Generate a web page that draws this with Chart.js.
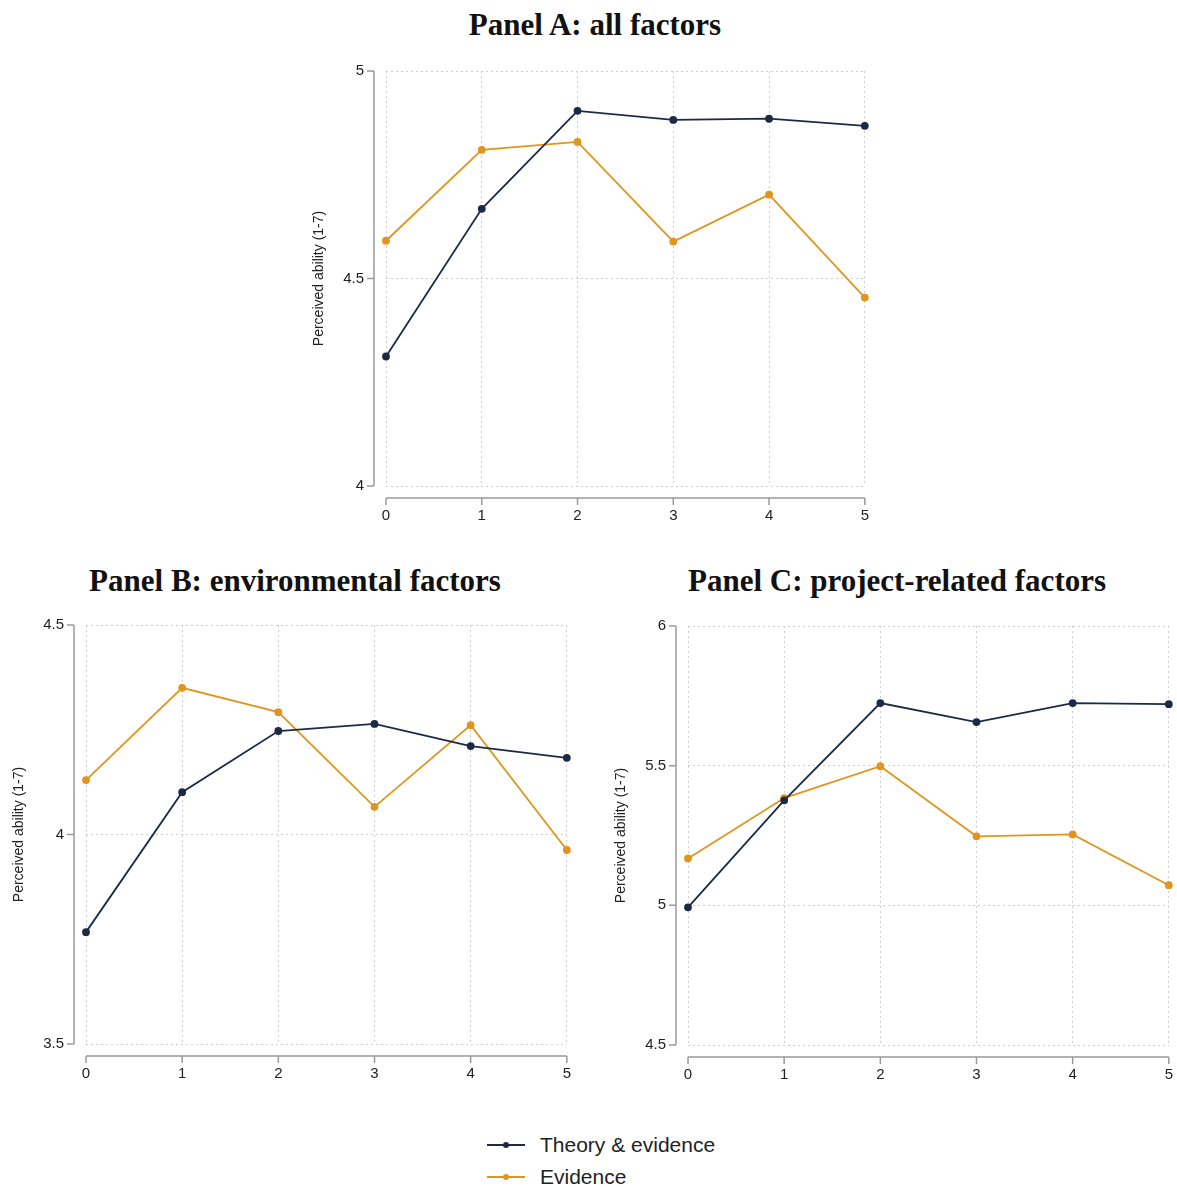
<!DOCTYPE html>
<html>
<head>
<meta charset="utf-8">
<script src="https://cdn.jsdelivr.net/npm/chart.js@4/dist/chart.umd.min.js"></script>
<style>
  body { margin: 0; background: #fff; width: 1177px; height: 1187px; position: relative; overflow: hidden; }
  .ttl { position: absolute; font-family: "Liberation Serif", serif; font-weight: bold; font-size: 31px; color: #111; white-space: nowrap; transform: translateX(-50%); }
  canvas { position: absolute; }
  #legend { position: absolute; left: 487px; top: 1130px; font-family: "Liberation Sans", Arial, sans-serif; font-size: 21px; color: #222; }
  .row { position: relative; height: 32px; line-height: 30px; padding-left: 53px; }
  .row .ln { position: absolute; left: 0; top: 14px; width: 38px; height: 2px; }
  .row .dt { position: absolute; left: 16px; top: 12px; width: 6px; height: 6px; border-radius: 50%; }
</style>
</head>
<body>
<div class="ttl" style="left:595px;top:7px">Panel A: all factors</div>
<div class="ttl" style="left:295px;top:563px">Panel B: environmental factors</div>
<div class="ttl" style="left:897px;top:563px">Panel C: project-related factors</div>

<canvas id="chartA" width="600" height="500" style="left:290px;top:40px"></canvas>
<canvas id="chartB" width="592" height="504" style="left:0px;top:594px"></canvas>
<canvas id="chartC" width="602" height="504" style="left:592px;top:595px"></canvas>

<div id="legend">
  <div class="row"><span class="ln" style="background:#1c2a48"></span><span class="dt" style="background:#1c2a48"></span>Theory &amp; evidence</div>
  <div class="row"><span class="ln" style="background:#e0951f"></span><span class="dt" style="background:#e0951f"></span>Evidence</div>
</div>

<script>
// rounds 0..5
const rounds = [0, 1, 2, 3, 4, 5];

// Panel A: all factors
const theoryA = [4.312, 4.668, 4.904, 4.882, 4.885, 4.868];
const evidenceA = [4.591, 4.810, 4.829, 4.589, 4.702, 4.454];
const ticksA = [4, 4.5, 5];

// Panel B: environmental factors
const theoryB = [3.767, 4.101, 4.247, 4.264, 4.211, 4.183];
const evidenceB = [4.130, 4.350, 4.292, 4.066, 4.261, 3.963];
const ticksB = [3.5, 4, 4.5];

// Panel C: project-related factors
const theoryC = [4.993, 5.376, 5.724, 5.656, 5.724, 5.720];
const evidenceC = [5.168, 5.384, 5.498, 5.247, 5.254, 5.072];
const ticksC = [4.5, 5, 5.5, 6];

const NAVY = "#1c2a48";
const ORANGE = "#e0951f";
const AXIS = "#9a9a9a";
const GRID = "#cfcfcf";
const FONT = "'Liberation Sans', Arial, sans-serif";

// Stata-like axes: lines sit a bit outside the plot region
const offsetAxes = {
  id: "offsetAxes",
  afterDraw(chart) {
    const ctx = chart.ctx;
    const xs = chart.scales.x, ys = chart.scales.y;
    const area = chart.chartArea;
    const ax = area.left - 12, ay = area.bottom + 12;
    ctx.save();
    ctx.strokeStyle = AXIS;
    ctx.lineWidth = 1.5;
    ctx.beginPath();
    ctx.moveTo(ax, ys.getPixelForValue(ys.min));
    ctx.lineTo(ax, ys.getPixelForValue(ys.max));
    ys.ticks.forEach(t => {
      const p = ys.getPixelForValue(t.value);
      ctx.moveTo(ax, p); ctx.lineTo(ax - 7, p);
    });
    ctx.moveTo(xs.getPixelForValue(xs.min), ay);
    ctx.lineTo(xs.getPixelForValue(xs.max), ay);
    xs.ticks.forEach(t => {
      const p = xs.getPixelForValue(t.value);
      ctx.moveTo(p, ay); ctx.lineTo(p, ay + 7);
    });
    ctx.stroke();
    ctx.restore();
  }
};

function makeChart(id, theory, evidence, yTicks, pad) {
  const yMin = yTicks[0], yMax = yTicks[yTicks.length - 1];
  return new Chart(document.getElementById(id), {
    type: "line",
    data: {
      labels: rounds,
      datasets: [
        {
          label: "Theory & evidence",
          data: rounds.map((r, i) => ({ x: r, y: theory[i] })),
          borderColor: NAVY, backgroundColor: NAVY,
          borderWidth: 1.8, pointRadius: 3, pointHoverRadius: 3,
          clip: false,
        },
        {
          label: "Evidence",
          data: rounds.map((r, i) => ({ x: r, y: evidence[i] })),
          borderColor: ORANGE, backgroundColor: ORANGE,
          borderWidth: 1.8, pointRadius: 3, pointHoverRadius: 3,
          clip: false,
        },
      ],
    },
    options: {
      responsive: false,
      animation: false,
      layout: { padding: pad },
      plugins: { legend: { display: false }, tooltip: { enabled: false } },
      scales: {
        x: {
          type: "linear", min: 0, max: 5,
          border: { display: false, dash: [2, 3] },
          grid: { color: GRID, drawTicks: false, lineWidth: 1 },
          ticks: { stepSize: 1, padding: 21, color: "#222", font: { family: FONT, size: 15 } },
          afterFit(scale) { scale.height = 54; },
        },
        y: {
          min: yMin, max: yMax,
          border: { display: false, dash: [2, 3] },
          grid: { color: GRID, drawTicks: false, lineWidth: 1 },
          afterBuildTicks(scale) { scale.ticks = yTicks.map(v => ({ value: v })); },
          ticks: { padding: 22, color: "#222", font: { family: FONT, size: 15 }, callback: v => String(v) },
          title: {
            display: true, text: "Perceived ability (1-7)", color: "#222",
            font: { family: FONT, size: 14 }, padding: { top: 21, bottom: 0 },
          },
          afterFit(scale) { scale.width = 96; },
        },
      },
    },
    plugins: [offsetAxes],
  });
}

makeChart("chartA", theoryA, evidenceA, ticksA, { top: 10, right: 24, bottom: 0, left: 0 });
makeChart("chartB", theoryB, evidenceB, ticksB, { top: 10, right: 24, bottom: 0, left: -10 });
makeChart("chartC", theoryC, evidenceC, ticksC, { top: 10, right: 8, bottom: 0, left: 0 });
</script>
</body>
</html>
